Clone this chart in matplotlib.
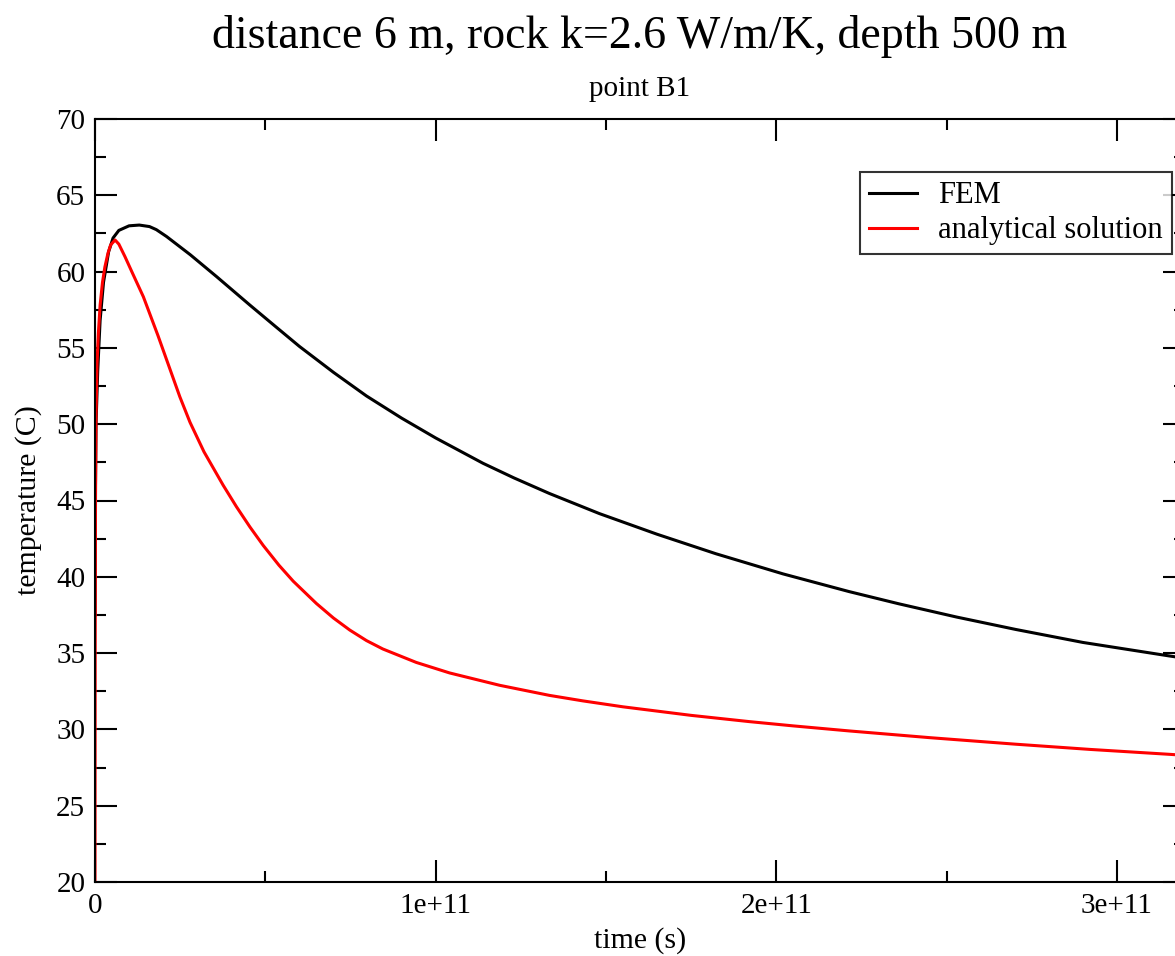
import numpy as np
import matplotlib
matplotlib.use('Agg')
import matplotlib.pyplot as plt
from matplotlib.ticker import MultipleLocator

plt.rcParams['font.family'] = ['Liberation Serif', 'DejaVu Serif']

# FEM result at point B1 (time in s, temperature in C)
t_fem = [0, 1e8, 3e8, 8e8, 1.5e9, 2.5e9, 4e9, 5.3e9, 7e9, 1.0e10, 1.3e10, 1.6e10,
         1.8e10, 2.1e10, 2.8e10, 3.57e10, 4.55e10, 5.3e10, 6.0e10, 7.0e10, 7.97e10,
         9.0e10, 1.0e11, 1.139e11, 1.23e11, 1.334e11, 1.481e11, 1.65e11, 1.823e11,
         2.02e11, 2.214e11, 2.36e11, 2.53e11, 2.703e11, 2.9e11, 3.152e11, 3.2e11]
T_fem = [37.5, 45.0, 50.0, 53.5, 56.8, 59.3, 61.3, 62.2, 62.7, 63.0, 63.05, 62.95,
         62.75, 62.3, 61.1, 59.67, 57.8, 56.4, 55.1, 53.4, 51.85,
         50.4, 49.1, 47.44, 46.48, 45.46, 44.14, 42.79, 41.51,
         40.19, 39.03, 38.23, 37.36, 36.55, 35.7, 34.82, 34.66]

# analytical solution at point B1
t_ana = [0, 5e7, 1.5e8, 3e8, 6e8, 1e9, 1.5e9, 2.2e9, 2.9e9, 3.8e9, 4.6e9, 5.9e9,
         7e9, 8.8e9, 1.1e10, 1.42e10, 1.85e10, 2.49e10, 2.79e10, 3.2e10, 3.76e10,
         4.15e10, 4.55e10, 4.94e10, 5.4e10, 5.82e10, 6.5e10, 7.0e10, 7.48e10,
         7.97e10, 8.45e10, 9.43e10, 1.041e11, 1.188e11, 1.334e11, 1.432e11, 1.55e11,
         1.75e11, 1.921e11, 2.05e11, 2.214e11, 2.45e11, 2.703e11, 2.92e11, 3.152e11,
         3.2e11]
T_ana = [20.0, 35.0, 45.0, 50.5, 54.0, 56.0, 57.8, 59.3, 60.3, 61.2, 61.75, 62.07,
         61.8, 60.98, 59.9, 58.35, 55.8, 51.8, 50.12, 48.19, 46.01,
         44.6, 43.26, 42.05, 40.76, 39.71, 38.25, 37.3, 36.51,
         35.82, 35.27, 34.39, 33.7, 32.89, 32.23, 31.87, 31.48,
         30.92, 30.51, 30.23, 29.9, 29.46, 29.03, 28.69, 28.37,
         28.3]

fig = plt.figure(figsize=(11.75, 9.56), dpi=100)
ax = fig.add_axes([95/1175, 74/956, 1090/1175, 763/956])

ax.plot(t_fem, T_fem, color='black', lw=2.2, label='FEM')
ax.plot(t_ana, T_ana, color='red', lw=2.2, label='analytical solution')

ax.set_xlim(0, 3.2e11)
ax.set_ylim(20, 70)
ax.xaxis.set_major_locator(MultipleLocator(1e11))
ax.xaxis.set_minor_locator(MultipleLocator(0.5e11))
ax.yaxis.set_major_locator(MultipleLocator(5))
ax.yaxis.set_minor_locator(MultipleLocator(2.5))
ax.set_xticks([0, 1e11, 2e11, 3e11])
ax.set_xticklabels(['0', '1e+11', '2e+11', '3e+11'])

ax.tick_params(which='both', direction='in', top=True, right=True, width=1.5,
               labelsize=21)
ax.tick_params(which='major', length=15.8)
ax.tick_params(which='minor', length=7.9)
ax.tick_params(axis='x', pad=8)
ax.tick_params(axis='y', pad=7)
for s in ax.spines.values():
    s.set_linewidth(1.5)

ax.set_xlabel('time (s)', fontsize=21.5, labelpad=6)
ax.set_ylabel('temperature (C)', fontsize=21.5, labelpad=10)

fig.text(640/1175, 1 - 37/956, 'distance 6 m, rock k=2.6 W/m/K, depth 500 m',
         ha='center', va='center', fontsize=33)
fig.text(640/1175, 1 - 89/956, 'point B1', ha='center', va='center', fontsize=21)

leg = ax.legend(loc='upper right', bbox_to_anchor=(0.988, 0.9305), fontsize=22,
                frameon=True, fancybox=False, borderaxespad=0, borderpad=0.3,
                handlelength=1.55, handletextpad=0.7, labelspacing=0.2)
leg.get_frame().set_edgecolor('black')
leg.get_frame().set_linewidth(1.5)

fig.savefig('out.png', dpi=100)
